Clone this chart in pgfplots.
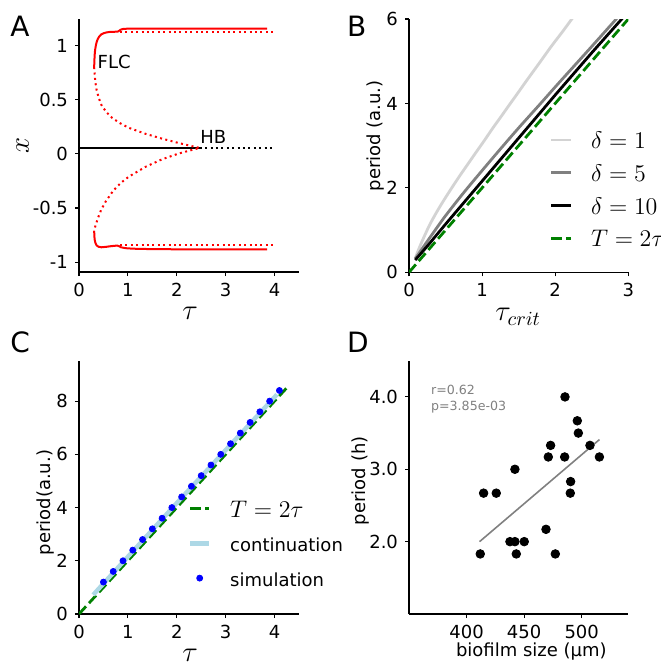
\documentclass[border=0pt]{standalone}
\usepackage{pgfplots}
\pgfplotsset{compat=1.18}
\usepackage{fontspec}
\setmainfont{DejaVu Sans}

\definecolor{mplgreen}{RGB}{0,128,0}
\definecolor{ltblue}{RGB}{173,216,230}
\definecolor{ltgray}{RGB}{211,211,211}
\definecolor{mgray}{RGB}{128,128,128}

\newcommand\tfont{\fontsize{9}{10}\selectfont}
\newcommand\mfont{\fontsize{14}{16}\selectfont}
\newcommand\lfont{\fontsize{11.5}{13}\selectfont}

\tikzset{
  dotl/.style={dash pattern=on 1pt off 1.7pt, line width=1pt},
  dashl/.style={dash pattern=on 5.2pt off 2.2pt, line width=1.4pt},
}

\pgfplotsset{
  panel/.style={
    scale only axis, anchor=south west,
    axis x line*=bottom, axis y line*=left,
    axis line style={-, line width=0.6pt},
    tick align=outside, major tick length=2pt,
    tick style={black, line width=0.6pt},
    tick label style={font=\tfont},
    /pgf/number format/assume math mode=true,
    label style={font=\tfont},
    legend cell align=left,
    legend style={draw=none, fill=none, inner sep=0pt, outer sep=0pt,
      anchor=north west, font=\tfont,
      nodes={inner sep=0pt, text height=8.5pt, text depth=0pt}},
  },
  lineleg/.style={legend image code/.code={\draw[##1] (0pt,0pt) -- (#1,0pt);}},
  markleg/.style={legend image code/.code={\draw[##1] plot coordinates {(4.6pt,0pt)};}},
}

\begin{document}
\begin{tikzpicture}
\useasboundingbox (0,0) rectangle (330pt,-334.5pt);

\node[anchor=base west, inner sep=0pt, font=\fontsize{14}{16}\selectfont] at (5pt,-18pt) {A};
\node[anchor=base west, inner sep=0pt, font=\fontsize{14}{16}\selectfont] at (173.3pt,-18pt) {B};
\node[anchor=base west, inner sep=0pt, font=\fontsize{14}{16}\selectfont] at (5pt,-176pt) {C};
\node[anchor=base west, inner sep=0pt, font=\fontsize{14}{16}\selectfont] at (173.3pt,-176pt) {D};

% A: bifurcation diagram
\begin{axis}[panel, at={(39.5pt,-136pt)}, width=110pt, height=126.5pt,
    xmin=0, xmax=4.5, ymin=-1.09, ymax=1.244,
    xtick={0,1,2,3,4}, ytick={-1,-0.5,0,0.5,1},
    yticklabels={-1,-0.5,0,0.5,1},
    xlabel={$\tau$}, ylabel={$x$},
    xlabel style={font=\mfont, at={(axis description cs:0.505,-0.162)}, anchor=center},
    ylabel style={font=\mfont, at={(axis description cs:-0.256,0.499)}, anchor=center}]
  \addplot[black, line width=1pt] coordinates {(0,0.055)(2.47,0.055)};
  \addplot[black, dotl] coordinates {(2.47,0.055)(3.97,0.055)};
  \addplot[red, line width=1pt] coordinates {
    (0.31,0.80)(0.315,0.86)(0.32,0.91)(0.33,0.96)(0.345,1.00)(0.36,1.03)
    (0.38,1.055)(0.41,1.08)(0.45,1.10)(0.50,1.112)(0.56,1.12)(0.62,1.124)
    (0.70,1.126)(0.79,1.127)(0.82,1.135)(0.85,1.145)(0.90,1.152)(1.0,1.155)
    (3.85,1.156)};
  \addplot[red, line width=1pt] coordinates {
    (0.31,-0.71)(0.315,-0.76)(0.32,-0.79)(0.335,-0.82)(0.36,-0.845)(0.40,-0.857)
    (0.46,-0.862)(0.55,-0.858)(0.65,-0.852)(0.78,-0.846)(0.82,-0.852)(0.86,-0.862)
    (0.95,-0.870)(1.1,-0.875)(1.5,-0.879)(2.2,-0.881)(3.85,-0.882)};
  \addplot[red, dotl] coordinates {
    (0.31,0.80)(0.32,0.73)(0.335,0.66)(0.36,0.59)(0.40,0.52)(0.46,0.45)(0.55,0.39)
    (0.68,0.33)(0.85,0.28)(1.02,0.24)(1.36,0.185)(1.70,0.14)(2.04,0.10)(2.30,0.072)
    (2.47,0.055)(2.30,0.035)(2.04,0.003)(1.70,-0.05)(1.36,-0.12)(1.02,-0.21)
    (0.85,-0.27)(0.70,-0.34)(0.545,-0.44)(0.45,-0.52)(0.39,-0.59)(0.345,-0.65)
    (0.32,-0.69)(0.31,-0.71)};
  \addplot[red, dotl] coordinates {(0.84,1.128)(3.97,1.128)};
  \addplot[red, dotl] coordinates {(0.84,-0.845)(3.97,-0.845)};
  \node[anchor=base west, inner sep=0pt, font=\tfont] at (axis cs:0.374,0.79) {FLC};
  \node[anchor=base west, inner sep=0pt, font=\tfont] at (axis cs:2.474,0.096) {HB};
\end{axis}

% B: period vs critical delay
\begin{axis}[panel, at={(204.5pt,-136.15pt)}, width=109.65pt, height=126.65pt,
    xmin=0, xmax=3, ymin=0, ymax=6,
    xtick={0,1,2,3}, ytick={0,2,4,6},
    xlabel={$\tau_{crit}$}, ylabel={period (a.u.)},
    xlabel style={font=\mfont, at={(axis description cs:0.498,-0.176)}, anchor=center},
    ylabel style={at={(axis description cs:-0.152,0.539)}, anchor=center},
    legend style={at={(rel axis cs:0.643,0.556)}, row sep=7.9pt, column sep=9.15pt, font=\lfont},
    lineleg=10pt]
  \addplot[ltgray, line width=1.4pt, smooth, tension=0.5] coordinates {
    (0.085,0.33)(0.15,0.62)(0.27,1.08)(0.36,1.37)(0.456,1.65)(0.57,1.96)(0.684,2.26)
    (0.80,2.55)(0.912,2.83)(1.03,3.12)(1.14,3.40)(1.26,3.69)(1.37,3.96)(1.49,4.25)
    (1.60,4.52)(1.78,4.95)(1.95,5.36)(2.10,5.70)(2.24,6.03)(2.28,6.12)};
  \addlegendentry{$\delta=1$}
  \addplot[mgray, line width=1.4pt, smooth, tension=0.5] coordinates {
    (0.085,0.32)(0.2,0.61)(0.35,0.98)(0.5,1.34)(0.75,1.89)(1.0,2.41)(1.25,2.92)
    (1.5,3.42)(1.78,3.96)(2.0,4.39)(2.25,4.87)(2.5,5.35)(2.82,5.97)(2.86,6.05)};
  \addlegendentry{$\delta=5$}
  \addplot[black, line width=1.4pt] coordinates {
    (0.085,0.29)(0.25,0.62)(0.5,1.14)(1.0,2.16)(1.5,3.18)(1.78,3.75)(2.0,4.2)
    (2.5,5.2)(2.91,6.0)(2.94,6.06)};
  \addlegendentry{$\delta=10$}
  \addplot[mplgreen, dashl] coordinates {(0,0)(3,6)};
  \addlegendentry{$T=2\tau$}
\end{axis}

% C: continuation vs simulation
\begin{axis}[panel, at={(39.5pt,-307pt)}, width=110pt, height=126.65pt,
    xmin=0, xmax=4.5, ymin=0, ymax=9.52,
    xtick={0,1,2,3,4}, ytick={0,2,4,6,8},
    xlabel={$\tau$}, ylabel={period(a.u.)},
    xlabel style={font=\mfont, at={(axis description cs:0.505,-0.162)}, anchor=center},
    ylabel style={at={(axis description cs:-0.151,0.44)}, anchor=center},
    legend style={at={(rel axis cs:0.4968,0.45)}, row sep=8.9pt, column sep=9.55pt},
    lineleg=9.2pt]
  \addplot[mplgreen, dashl] coordinates {(0,0)(4.3,8.6)};
  \addlegendentry{\lfont$T=2\tau$}
  \addplot[ltblue, line width=2.2pt] coordinates {(0.29,0.72)(2.0,4.17)(4.05,8.25)};
  \addlegendentry{continuation}
  \addplot[only marks, mark=*, mark size=1.5pt, blue, markleg] coordinates {
    (0.5,1.2)(0.7,1.6)(0.9,2.0)(1.1,2.4)(1.3,2.8)(1.5,3.2)(1.7,3.6)(1.9,4.0)
    (2.1,4.4)(2.3,4.8)(2.5,5.2)(2.7,5.6)(2.9,6.0)(3.1,6.4)(3.3,6.8)(3.5,7.2)
    (3.7,7.6)(3.9,8.0)(4.1,8.4)};
  \addlegendentry{simulation}
\end{axis}

% D: period vs biofilm size
\begin{axis}[panel, at={(204.5pt,-307pt)}, width=109.65pt, height=126.65pt,
    xmin=350, xmax=540.5, ymin=1, ymax=4.5,
    xtick={400,450,500}, ytick={2,3,4}, yticklabels={2.0,3.0,4.0},
    xlabel={biofilm size (µm)}, ylabel={period (h)},
    xlabel style={at={(axis description cs:0.558,-0.15)}, anchor=center},
    ylabel style={at={(axis description cs:-0.22,0.526)}, anchor=center}]
  \addplot[only marks, mark=*, mark size=2.15pt, black] coordinates {
    (411.9,1.83)(414.8,2.67)(425.8,2.67)(442.0,3.0)(437.7,2.0)(442.0,2.0)
    (450.1,2.0)(443.2,1.83)(469.0,2.17)(477.1,1.83)(471.0,3.17)(473.0,3.33)
    (485.2,3.17)(485.5,4.0)(490.4,2.83)(490.1,2.67)(496.2,3.67)(497.1,3.5)
    (507.2,3.33)(515.4,3.17)};
  \addplot[mgray, line width=0.8pt] coordinates {(411.3,2.0)(515.4,3.41)};
  \node[anchor=west, inner sep=0pt, font=\fontsize{6.3}{7}\selectfont, text=mgray]
    at (axis cs:368.9,4.09) {r=0.62};
  \node[anchor=west, inner sep=0pt, font=\fontsize{6.3}{7}\selectfont, text=mgray]
    at (axis cs:368.9,3.86) {p=3.85e-03};
\end{axis}
\end{tikzpicture}
\end{document}
